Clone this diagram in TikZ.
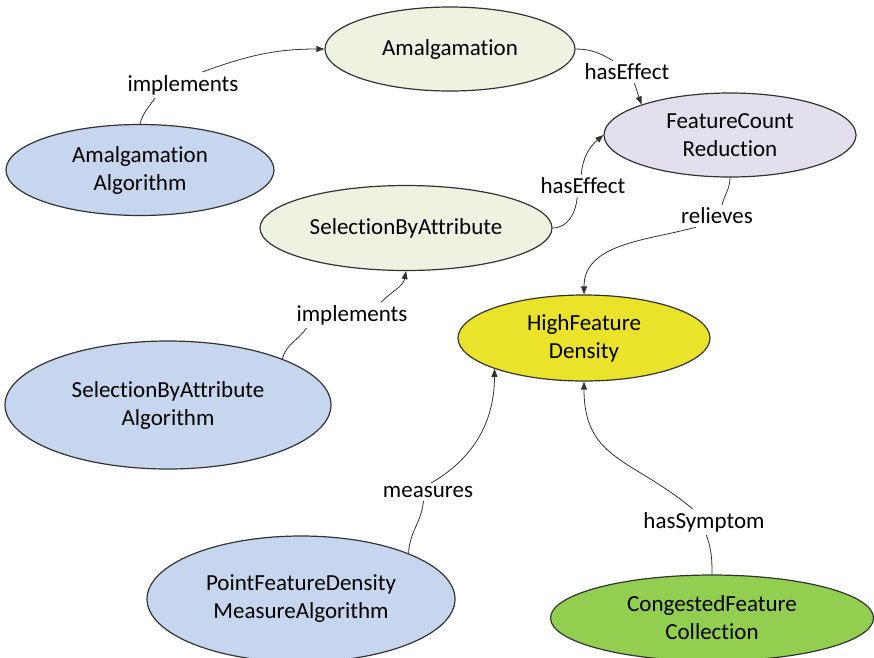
\documentclass[tikz,border=0pt]{standalone}
\usepackage{fontspec}
\setmainfont{Carlito}[Ligatures=CommonOff]
\usepackage{tikz}
\usetikzlibrary{shapes.geometric, arrows.meta}
\definecolor{onBlue}{HTML}{C6D6EE}
\definecolor{onPale}{HTML}{EEF2E0}
\definecolor{onLilac}{HTML}{E4DFEC}
\definecolor{onYellow}{HTML}{EAE32A}
\definecolor{onGreen}{HTML}{92CF50}
\definecolor{onLine}{HTML}{333333}

\begin{document}
\begin{tikzpicture}[
  x=1pt, y=-1pt,
  font=\fontsize{23}{28}\selectfont,
  concept/.style={ellipse, draw=onLine, line width=1.2pt, align=center, inner sep=0pt},
  prop/.style={inner sep=3pt},
  ln/.style={draw=onLine, line width=0.8pt},
  arr/.style={ln, -{Triangle[length=8pt,width=6pt]}},
]
\useasboundingbox (0,0) rectangle (874,657);

% ---- concepts ----
\node[concept, fill=onPale, minimum width=250pt, minimum height=84pt] (amal) at (450,49) {Amalgamation};
\node[concept, fill=onLilac, minimum width=252pt, minimum height=84pt] (fcr) at (730,135) {FeatureCount\\Reduction};
\node[concept, fill=onBlue, minimum width=268pt, minimum height=91pt] (amalalg) at (140,170) {Amalgamation\\Algorithm};
\node[concept, fill=onPale, minimum width=292pt, minimum height=85pt] (sba) at (406,228) {SelectionByAttribute};
\node[concept, fill=onYellow, minimum width=252pt, minimum height=86pt] (hfd) at (584,338) {HighFeature\\Density};
\node[concept, fill=onBlue, minimum width=326pt, minimum height=128pt] (sbaalg) at (168,405) {SelectionByAttribute\\Algorithm};
\node[concept, fill=onBlue, minimum width=308pt, minimum height=126pt] (pfd) at (301,599) {PointFeatureDensity\\MeasureAlgorithm};
\node[concept, fill=onGreen, minimum width=323pt, minimum height=86pt] (cfc) at (712,618) {CongestedFeature\\Collection};

% ---- relation labels ----
\node[prop] (impl1) at (183,85) {implements};
\node[prop] (eff1) at (627,72) {hasEffect};
\node[prop] (eff2) at (583,186) {hasEffect};
\node[prop] (rel) at (717,216) {relieves};
\node[prop] (impl2) at (352,315) {implements};
\node[prop] (meas) at (428,492) {measures};
\node[prop] (sym) at (704,522) {hasSymptom};

% ---- connectors ----
% Amalgamation
\draw[ln] (amalalg.north) to[out=75,in=-125] (impl1.-155);
\draw[arr] (impl1.34) to[out=20,in=180] (amal.west);
\draw[ln] (amal.east) to[out=0,in=150] (eff1.141);
\draw[arr] (eff1.-57) to[out=-70,in=110] (fcr.161);

% SelectionByAttribute
\draw[ln] (sbaalg.22) to[out=75,in=-125] (impl2.-164);
\draw[arr] (impl2.24) to[out=45,in=-100] (sba.south);
\draw[ln] (sba.east) to[out=0,in=-95] (eff2.-117);
\draw[arr] (eff2.99) to[out=85,in=-140] (fcr.west);

% FeatureCountReduction -> HighFeatureDensity
\draw[ln] (fcr.south) to[out=-90,in=75] (rel.66);
\draw[arr] (rel.-152) to[out=195,in=90] (hfd.north);

% measures / hasSymptom
\draw[ln] (pfd.23) to[out=88,in=-95] (meas.-117);
\draw[arr] (meas.72) to[out=30,in=-90] (hfd.199);
\draw[ln] (cfc.north) to[out=90,in=-70] (sym.-80);
\draw[arr] (sym.131) to[out=140,in=-90,looseness=1.2] (hfd.south);
\end{tikzpicture}
\end{document}
